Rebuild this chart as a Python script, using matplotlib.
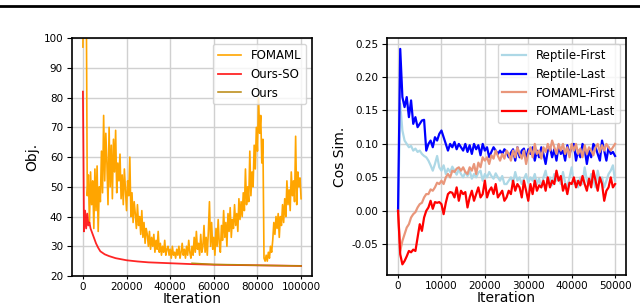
import numpy as np
import matplotlib
matplotlib.use("Agg")
import matplotlib.pyplot as plt
from matplotlib.lines import Line2D

# ---------------- Left panel data ----------------
fomaml_x_step = 500
fomaml_obj = [97, 140, 150, 120, 47, 54, 38, 55, 44, 52,
              36, 56, 42, 57, 35, 50, 45, 62, 48, 74,
              52, 68, 58, 44, 70, 50, 64, 46, 66, 55,
              69, 48, 58, 52, 61, 46, 54, 44, 56, 49,
              42, 52, 47, 60, 40, 48, 38, 45, 41, 36,
              44, 37, 40, 34, 42, 33, 38, 31, 36, 34,
              30, 35, 29, 33, 30, 34, 28, 32, 29, 35,
              28, 31, 27, 30, 28, 32, 27, 29, 30, 27,
              29, 26, 30, 27, 28, 26, 29, 27, 30, 26,
              28, 31, 27, 29, 26, 30, 27, 32, 28, 26,
              30, 27, 33, 28, 35, 29, 31, 27, 34, 28,
              30, 37, 28, 33, 27, 35, 45, 30, 38, 29,
              33, 27, 36, 30, 39, 31, 28, 37, 32, 42,
              33, 38, 30, 41, 35, 43, 33, 39, 36, 44,
              37, 41, 35, 46, 39, 45, 40, 48, 42, 56,
              44, 50, 45, 62, 47, 55, 50, 64, 56, 70,
              62, 80, 68, 74, 58, 66, 26, 25, 27, 25,
              28, 26, 30, 28, 32, 38, 34, 40, 36, 41,
              33, 40, 37, 44, 38, 46, 40, 52, 44, 49,
              42, 55, 47, 52, 45, 67, 44, 55, 50, 53,
              46]

ours_so_x = [0, 250, 500, 1000, 1500, 2000, 2500, 3000, 3500, 4000, 5000,
             6000, 7000, 8000, 9000, 10000, 12000, 15000, 20000, 25000,
             30000, 40000, 50000, 60000, 70000, 80000, 90000, 100000]
ours_so_y = [82, 60, 35, 42, 36, 41, 37, 38, 36, 35, 33,
             31, 29.5, 28.3, 27.8, 27.3, 26.7, 26.0, 25.3, 24.9,
             24.6, 24.3, 24.0, 23.8, 23.7, 23.6, 23.5, 23.4]

ours_x = [50000, 60000, 70000, 80000, 90000, 100000]
ours_y = [24.3, 23.9, 23.8, 23.6, 23.5, 23.4]

# ---------------- Right panel data ----------------
cos_x_step = 500
reptile_last = [0.0, 0.242, 0.17, 0.155, 0.17, 0.14, 0.165, 0.13, 0.14, 0.125,
                0.13, 0.135, 0.136, 0.09, 0.10, 0.105, 0.095, 0.11, 0.105, 0.115,
                0.12, 0.11, 0.10, 0.09, 0.10, 0.095, 0.103, 0.092, 0.10, 0.095,
                0.09, 0.10, 0.088, 0.098, 0.085, 0.10, 0.092, 0.098, 0.083, 0.10,
                0.09, 0.095, 0.08, 0.088, 0.095, 0.09, 0.085, 0.09, 0.085, 0.092,
                0.088, 0.08, 0.087, 0.092, 0.075, 0.095, 0.08, 0.09, 0.093, 0.078,
                0.092, 0.085, 0.095, 0.075, 0.09, 0.08, 0.095, 0.085, 0.07, 0.09,
                0.095, 0.08, 0.092, 0.075, 0.098, 0.085, 0.09, 0.075, 0.098, 0.085,
                0.095, 0.10, 0.075, 0.09, 0.08, 0.10, 0.092, 0.07, 0.09, 0.08,
                0.10, 0.095, 0.085, 0.075, 0.105, 0.09, 0.075, 0.095, 0.085, 0.088,
                0.082]
reptile_first = [0.0, 0.16, 0.12, 0.105, 0.10, 0.095, 0.097, 0.09, 0.093, 0.088,
                 0.09, 0.085, 0.082, 0.08, 0.075, 0.068, 0.06, 0.07, 0.082, 0.065,
                 0.06, 0.068, 0.055, 0.063, 0.058, 0.066, 0.06, 0.054, 0.062, 0.055,
                 0.05, 0.058, 0.052, 0.06, 0.048, 0.055, 0.05, 0.057, 0.06, 0.045,
                 0.055, 0.05, 0.058, 0.052, 0.048, 0.056, 0.05, 0.045, 0.052, 0.04,
                 0.04, 0.045, 0.05, 0.042, 0.058, 0.045, 0.05, 0.04, 0.048, 0.055,
                 0.042, 0.05, 0.045, 0.055, 0.04, 0.048, 0.035, 0.05, 0.06, 0.042,
                 0.05, 0.038, 0.055, 0.045, 0.05, 0.04, 0.058, 0.042, 0.035, 0.05,
                 0.065, 0.04, 0.045, 0.035, 0.05, 0.04, 0.065, 0.045, 0.038, 0.055,
                 0.045, 0.035, 0.06, 0.045, 0.05, 0.035, 0.045, 0.055, 0.06, 0.068,
                 0.045]
fomaml_first = [0.0, -0.06, -0.045, -0.035, -0.025, -0.02, -0.01, -0.005, -0.002, 0.005,
                0.01, 0.012, 0.02, 0.025, 0.025, 0.032, 0.03, 0.035, 0.042, 0.04,
                0.045, 0.04, 0.05, 0.055, 0.05, 0.06, 0.058, 0.063, 0.065, 0.06,
                0.065, 0.058, 0.055, 0.065, 0.06, 0.07, 0.055, 0.072, 0.065, 0.08,
                0.075, 0.08, 0.07, 0.083, 0.078, 0.09, 0.082, 0.075, 0.085, 0.078,
                0.09, 0.085, 0.075, 0.09, 0.08, 0.095, 0.085, 0.078, 0.09, 0.07,
                0.085, 0.095, 0.08, 0.10, 0.085, 0.09, 0.078, 0.095, 0.088, 0.10,
                0.09, 0.105, 0.095, 0.085, 0.10, 0.09, 0.10, 0.085, 0.095, 0.08,
                0.10, 0.09, 0.10, 0.085, 0.093, 0.08, 0.098, 0.085, 0.095, 0.09,
                0.083, 0.095, 0.10, 0.088, 0.098, 0.09, 0.10, 0.095, 0.09, 0.095,
                0.10]
fomaml_last = [0.0, -0.065, -0.08, -0.075, -0.068, -0.06, -0.062, -0.058, -0.06, -0.04,
               -0.02, -0.03, -0.01, 0.0, 0.005, 0.015, 0.003, 0.013, 0.012, 0.013,
               0.01, -0.005, 0.012, 0.025, 0.028, 0.027, 0.02, 0.035, 0.015, 0.03,
               0.025, 0.028, 0.005, 0.02, 0.03, 0.015, 0.025, 0.035, 0.02, 0.025,
               0.045, 0.02, 0.03, 0.035, 0.025, 0.04, 0.02, 0.025, 0.03, 0.015,
               0.02, 0.03, 0.025, 0.045, 0.03, 0.04, 0.035, 0.02, 0.045, 0.03,
               0.015, 0.04, 0.025, 0.045, 0.03, 0.038, 0.035, 0.045, 0.03, 0.05,
               0.035, 0.045, 0.04, 0.06, 0.045, 0.052, 0.03, 0.04, 0.025, 0.042,
               0.04, 0.05, 0.035, 0.045, 0.038, 0.052, 0.04, 0.03, 0.048, 0.035,
               0.06, 0.045, 0.03, 0.05, 0.04, 0.015, 0.03, 0.035, 0.05, 0.035,
               0.04]

fig = plt.figure(figsize=(6.4, 3.05), dpi=100)
fig.add_artist(Line2D([0, 1], [0.980, 0.980], color='black', lw=2.0,
                      transform=fig.transFigure))

tick_fs = 7.5
label_fs = 10
leg_fs = 8.5

# Left
ax1 = fig.add_axes([0.1125, 0.095, 0.375, 0.78])
fx = np.arange(len(fomaml_obj)) * fomaml_x_step
ax1.plot(fx, fomaml_obj, color='orange', lw=1.2, label='FOMAML')
ax1.plot(ours_so_x, ours_so_y, color='red', lw=1.3, alpha=0.85, label='Ours-SO')
ax1.plot(ours_x, ours_y, color='darkgoldenrod', lw=1.1, label='Ours')
ax1.set_ylim(20, 100)
ax1.set_xlim(-5000, 105000)
ax1.set_xticks([0, 20000, 40000, 60000, 80000, 100000])
ax1.set_yticks(range(20, 101, 10))
ax1.set_xlabel('Iteration', fontsize=label_fs, labelpad=0)
ax1.set_ylabel('Obj.', fontsize=label_fs, labelpad=3)
ax1.legend(loc='upper right', fontsize=leg_fs)

# Right
ax2 = fig.add_axes([0.605, 0.098, 0.373, 0.777])
cx = np.arange(len(reptile_last)) * cos_x_step
ax2.plot(cx, reptile_first, color='lightblue', lw=1.6, label='Reptile-First')
ax2.plot(cx, reptile_last, color='blue', lw=1.6, label='Reptile-Last')
ax2.plot(cx, fomaml_first, color='darksalmon', lw=1.6, label='FOMAML-First')
ax2.plot(cx, fomaml_last, color='red', lw=1.6, label='FOMAML-Last')
ax2.set_xticks([0, 10000, 20000, 30000, 40000, 50000])
ax2.set_yticks([-0.05, 0.0, 0.05, 0.10, 0.15, 0.20, 0.25])
ax2.yaxis.set_major_formatter(matplotlib.ticker.FormatStrFormatter('%.2f'))
ax2.set_xlabel('Iteration', fontsize=label_fs, labelpad=0)
ax2.set_ylabel('Cos Sim.', fontsize=label_fs, labelpad=3)
ax2.legend(loc='upper right', fontsize=leg_fs)

for ax in (ax1, ax2):
    ax.grid(True, color='#d0d0d0', lw=1.0)
    ax.set_axisbelow(True)
    ax.tick_params(axis='x', labelsize=tick_fs, length=2.5, pad=1.5)
    ax.tick_params(axis='y', labelsize=tick_fs, length=3.5, pad=3)
    for s in ax.spines.values():
        s.set_linewidth(1.2)

fig.savefig('out.png', dpi=100)
